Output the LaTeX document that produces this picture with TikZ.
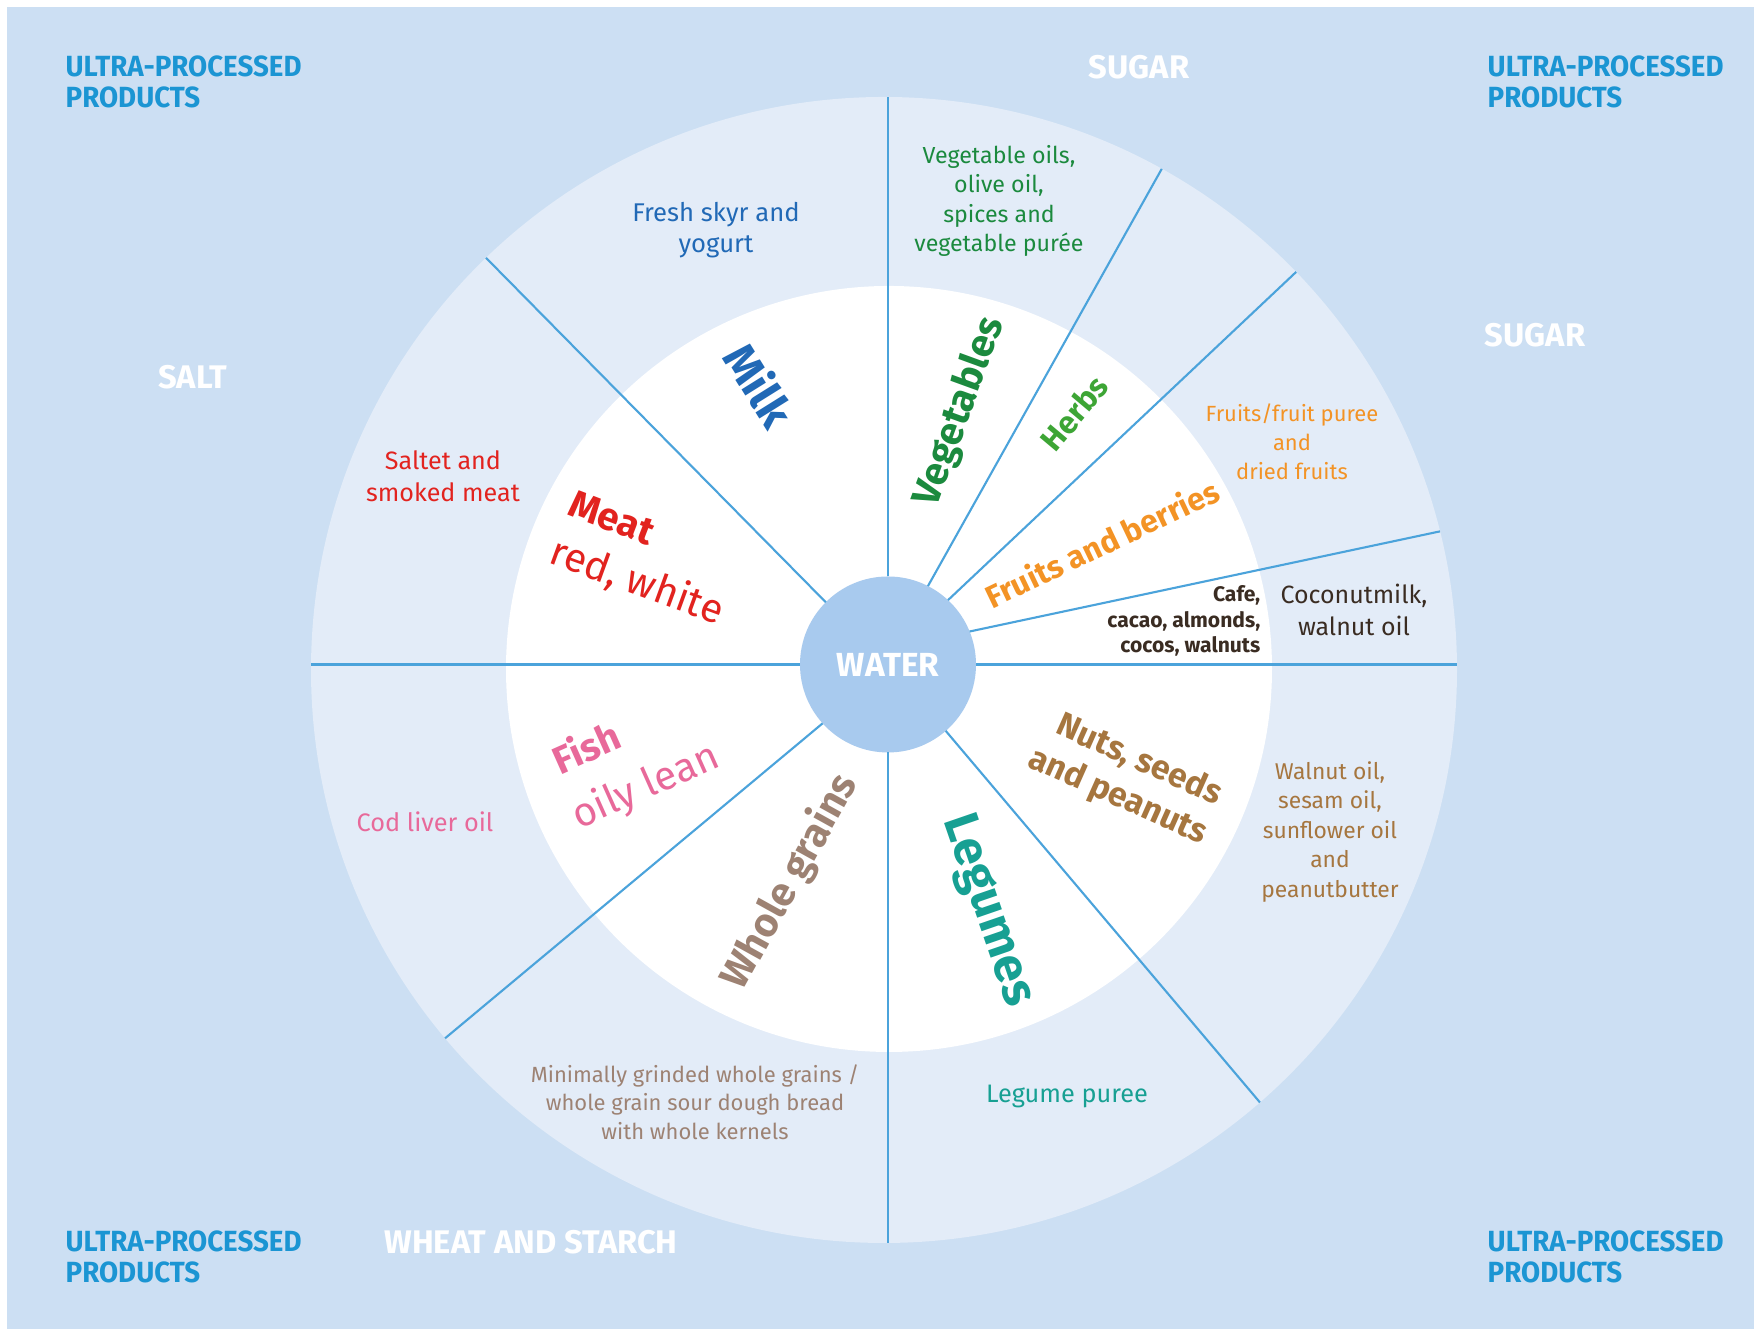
\documentclass[tikz,border=0pt]{standalone}
\usepackage{fontspec}
\setmainfont{Fira Sans}
\newfontfamily\narrowsans{Fira Sans}[FakeStretch=0.95]
\usepackage{tikz}

\definecolor{bgblue}{HTML}{CCDFF3}
\definecolor{ringblue}{HTML}{E3ECF8}
\definecolor{waterblue}{HTML}{A8CAEE}
\definecolor{spokeblue}{HTML}{4BA3DB}
\definecolor{upblue}{HTML}{1B95D3}
\definecolor{milkblue}{HTML}{2169B6}
\definecolor{veggreen}{HTML}{1B8A3E}
\definecolor{herbgreen}{HTML}{3DA535}
\definecolor{fruitorange}{HTML}{F39325}
\definecolor{cafebrown}{HTML}{3A2C22}
\definecolor{nutbrown}{HTML}{A6763F}
\definecolor{legteal}{HTML}{17A093}
\definecolor{grainbrown}{HTML}{9D8273}
\definecolor{fishpink}{HTML}{E8699A}
\definecolor{meatred}{HTML}{E2231F}

\begin{document}
\begin{tikzpicture}[
        disc/.style={circle, inner sep=0pt, outer sep=0pt},
        spoke/.style={draw=spokeblue, line width=0.6pt},
        corner/.style={text=upblue, font=\narrowsans\bfseries\fontsize{8.3}{8.8}\selectfont, align=left, anchor=west, inner sep=0pt},
        zone/.style={text=white, font=\bfseries\fontsize{9.3}{10}\selectfont, inner sep=0pt},
        note/.style 2 args={align=center, font=\fontsize{#1}{#2}\selectfont, inner sep=0pt},
        group/.style={font=\bfseries\fontsize{#1}{#1}\selectfont, inner sep=0pt},
        group/.default=11,
        kind/.style={font=\fontsize{11.5}{13}\selectfont, inner sep=0pt}
    ]
        % -- page --
        \useasboundingbox (0,0) rectangle (17.54,13.29);
        \fill[bgblue] (0.07,0) rectangle (17.54,13.22);

        % -- wheel: rim, inner disc, water --
        \node[disc, fill=ringblue, minimum size=11.46cm] (ring) at (8.84,6.59) {};
        \node[disc, fill=white, minimum size=7.66cm]     (core) at (8.89,6.60) {};
        \node[disc, fill=waterblue, minimum size=1.76cm, text=white,
              font=\bfseries\fontsize{9.5}{11}\selectfont] (water) at (8.88,6.645) {WATER};

        % spokes from the water disc out to the rim
        \draw[spoke] (water.north) -- (water.north |- ring.north);
        \draw[spoke] (water.south) -- (water.south |- ring.south);
        \draw[spoke] (water.east)  -- (water.east -| ring.east);
        \draw[spoke] (water.west)  -- (water.west -| ring.west);
        \foreach \a/\b in {63/61.6, 47/44.2, 22/14.8, 311/311.7, 222/220.7, 135/134.3}
            \draw[spoke] (water.\a) -- (ring.\b);

        % -- corners --
        \node[corner] (upnw) at (0.65,12.475) {ULTRA-PROCESSED\\PRODUCTS};
        \node[corner] (upne) at (14.87,12.475) {ULTRA-PROCESSED\\PRODUCTS};
        \node[corner] (upsw) at (0.65,0.72) {ULTRA-PROCESSED\\PRODUCTS};
        \node[corner] (upse) at (14.87,0.72) {ULTRA-PROCESSED\\PRODUCTS};

        \node[zone] (sugarn) at (11.39,12.62) {SUGAR};
        \node[zone] (sugare) at (15.35,9.94)  {SUGAR};
        \node[zone] (salt)   at (1.93,9.52)   {SALT};
        \node[zone] (wheat)  at (5.31,0.87)   {WHEAT AND STARCH};

        % -- rim texts --
        \node[note={7.3}{8.8}, text=milkblue]    (skyr)     at (7.16,10.99) {Fresh skyr and\\yogurt};
        \node[note={6.6}{8.4}, text=veggreen]    (oils)     at (9.99,11.28) {Vegetable oils,\\olive oil,\\spices and\\vegetable purée};
        \node[note={6.25}{8.3}, text=fruitorange] (puree)   at (12.92,8.87) {Fruits/fruit puree\\and\\dried fruits};
        \node[note={7.1}{9}, text=cafebrown]     (coco)     at (13.54,7.19) {Coconutmilk,\\walnut oil};
        \node[note={6.5}{8.4}, text=nutbrown]    (nutoil)   at (13.30,4.97) {Walnut oil,\\sesam oil,\\sunflower oil\\and\\peanutbutter};
        \node[note={7.2}{8.4}, text=legteal]     (legpuree) at (10.67,2.32) {Legume puree};
        \node[note={6.25}{8.1}, text=grainbrown] (kernels)  at (6.95,2.27)  {Minimally grinded whole grains /\\whole grain sour dough bread\\with whole kernels};
        \node[note={7.2}{8.4}, text=fishpink]    (codoil)   at (4.25,5.07)  {Cod liver oil};
        \node[note={7.15}{9.2}, text=meatred]    (smoked)   at (4.43,8.53)  {Saltet and\\smoked meat};

        % -- inner disc: food groups --
        \node[group=13, text=milkblue, rotate=-58]   (milk)    at (7.60,9.44)  {Milk};
        \node[group=11.2, text=veggreen, rotate=70]  (veg)     at (9.60,9.17)  {Vegetables};
        \node[group=9, text=herbgreen, rotate=50]    (herbs)   at (10.74,9.16) {Herbs};
        \node[group=9, text=fruitorange, rotate=25.5] (fruits) at (11.02,7.86) {Fruits and berries};
        \node[anchor=east, align=right, inner sep=0pt, text=cafebrown,
              font=\bfseries\fontsize{6}{7.3}\selectfont] (cafe) at (12.61,7.08) {Cafe,\\cacao, almonds,\\cocos, walnuts};
        \node[group=9.6, text=nutbrown, rotate=-24]  (nuts)    at (11.39,5.69) {Nuts, seeds};
        \node[group=9.6, text=nutbrown, rotate=-24]  (peanuts) at (11.18,5.32) {and peanuts};
        \node[group=14, text=legteal, rotate=-71]    (legumes) at (9.87,4.18)  {Legumes};
        \node[group=11.5, text=grainbrown, rotate=61] (grains) at (7.90,4.47)  {Whole grains};
        \node[group, text=fishpink, rotate=24]       (fish)    at (5.86,5.82)  {Fish};
        \node[kind, text=fishpink, rotate=24]        (oily)    at (6.46,5.42)  {oily lean};
        \node[group, text=meatred, rotate=-21]       (meat)    at (6.12,8.11)  {Meat};
        \node[kind, text=meatred, rotate=-20]        (redwhite) at (6.37,7.47) {red, white};
    \end{tikzpicture}
\end{document}
